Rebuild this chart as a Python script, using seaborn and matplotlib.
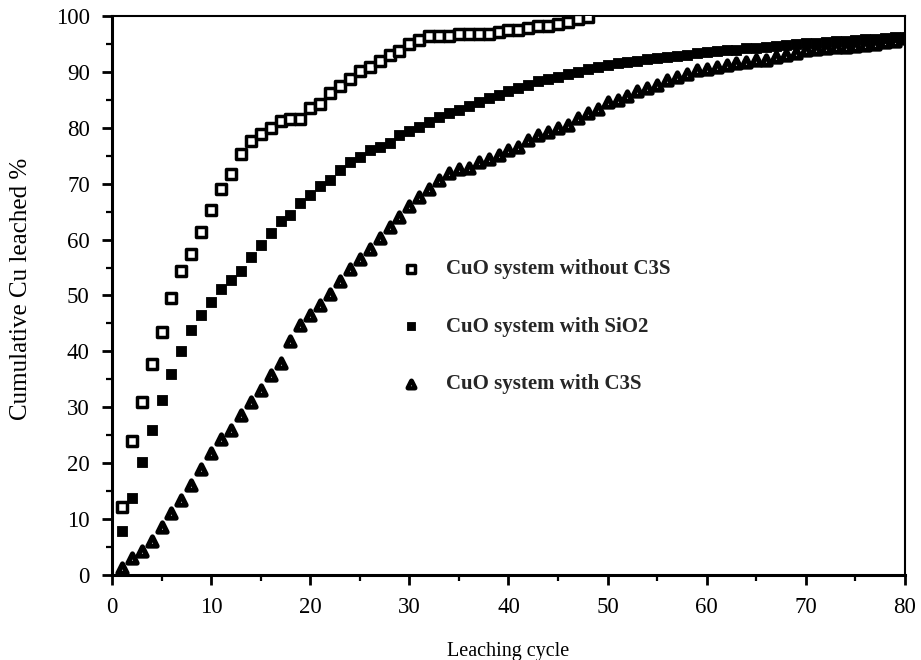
import matplotlib
matplotlib.use("Agg")
import matplotlib.pyplot as plt
from matplotlib.ticker import MultipleLocator
import numpy as np
import pandas as pd
import seaborn as sns

# Cumulative Cu leached (%) per leaching cycle
cycles_no_c3s = list(range(1, 49))
cu_no_c3s = [12.2, 24.0, 30.9, 37.8, 43.4, 49.5, 54.3, 57.4, 61.3, 65.3,
             69.1, 71.8, 75.3, 77.7, 78.8, 80.0, 81.2, 81.6, 81.6, 83.5,
             84.3, 86.2, 87.4, 88.8, 90.2, 90.9, 91.9, 93.0, 93.8, 94.9,
             95.7, 96.5, 96.4, 96.4, 96.7, 96.8, 96.8, 96.8, 97.1, 97.5,
             97.5, 97.8, 98.2, 98.2, 98.6, 98.9, 99.4, 99.9]

cycles_sio2 = list(range(1, 81))
cu_sio2 = [7.8, 13.7, 20.2, 25.9, 31.3, 35.9, 40.1, 43.9, 46.5, 48.9,
           51.1, 52.8, 54.4, 56.9, 59.0, 61.2, 63.3, 64.4, 66.6, 68.0,
           69.5, 70.7, 72.4, 73.9, 74.8, 76.0, 76.6, 77.3, 78.7, 79.5,
           80.2, 81.1, 82.0, 82.6, 83.2, 83.9, 84.7, 85.3, 85.9, 86.5,
           87.1, 87.7, 88.3, 88.7, 89.1, 89.6, 90.0, 90.5, 90.9, 91.2,
           91.5, 91.8, 92.0, 92.3, 92.5, 92.7, 92.9, 93.1, 93.3, 93.5,
           93.7, 93.9, 94.0, 94.2, 94.3, 94.5, 94.6, 94.8, 94.9, 95.1,
           95.2, 95.4, 95.5, 95.6, 95.7, 95.8, 95.9, 96.0, 96.2, 96.3]

cycles_c3s = list(range(1, 81))
cu_c3s = [1.3, 3.0, 4.3, 6.0, 8.5, 11.0, 13.5, 16.1, 18.9, 21.8,
          24.3, 25.9, 28.6, 30.9, 33.1, 35.8, 38.0, 41.9, 44.8, 46.5,
          48.3, 50.2, 52.6, 54.7, 56.5, 58.4, 60.2, 62.3, 64.0, 66.0,
          67.6, 69.1, 70.6, 71.9, 72.6, 72.8, 73.9, 74.5, 75.1, 76.0,
          76.6, 77.8, 78.7, 79.3, 79.9, 80.5, 81.7, 82.6, 83.4, 84.7,
          85.0, 85.6, 86.5, 87.1, 87.7, 88.6, 89.1, 89.7, 90.3, 90.6,
          90.9, 91.2, 91.6, 91.8, 92.1, 92.1, 92.7, 93.0, 93.3, 93.9,
          94.1, 94.3, 94.4, 94.5, 94.6, 94.8, 95.0, 95.3, 95.6, 96.0]

labels = ["CuO system without C3S", "CuO system with SiO2", "CuO system with C3S"]
x_ticks = list(range(0, 81, 10))
y_ticks = list(range(0, 101, 10))

sns.set_theme(style="ticks")
plt.rcParams["font.family"] = ["Liberation Serif", "DejaVu Serif"]

fig = plt.figure(figsize=(9.21, 6.60), dpi=100)
ax = fig.add_axes([0.1216, 0.1288, 0.8610, 0.8470])

df_a = pd.DataFrame({"cycle": cycles_no_c3s, "cu": cu_no_c3s})
df_b = pd.DataFrame({"cycle": cycles_sio2, "cu": cu_sio2})
df_c = pd.DataFrame({"cycle": cycles_c3s, "cu": cu_c3s})

sns.scatterplot(data=df_c, x="cycle", y="cu", ax=ax, marker="^", s=45,
                facecolor="white", edgecolor="black", linewidth=3.6,
                label=labels[2], zorder=3)
sns.scatterplot(data=df_b, x="cycle", y="cu", ax=ax, marker="s", s=55,
                color="black", edgecolor="black", linewidth=0.6,
                label=labels[1], zorder=4)
sns.scatterplot(data=df_a, x="cycle", y="cu", ax=ax, marker="s", s=58,
                facecolor="white", edgecolor="black", linewidth=2.5,
                label=labels[0], zorder=5)

ax.set_xlim(0, 80)
ax.set_ylim(0, 100)
ax.set_xticks(x_ticks)
ax.set_yticks(y_ticks)
ax.xaxis.set_minor_locator(MultipleLocator(5))
ax.yaxis.set_minor_locator(MultipleLocator(5))
ax.tick_params(which="major", direction="out", length=7, width=2,
               labelsize=16.5, pad=9, color="black", labelcolor="black")
ax.tick_params(which="minor", direction="out", length=4.5, width=1.6,
               color="black")
ax.tick_params(axis="x", which="both", top=False)
ax.tick_params(axis="y", which="both", right=False)

for side in ("left", "bottom"):
    ax.spines[side].set_linewidth(2.2)
for side in ("top", "right"):
    ax.spines[side].set_linewidth(1.5)
for sp in ax.spines.values():
    sp.set_color("black")
    sp.set_visible(True)

ax.set_xlabel("Leaching cycle", fontsize=14.5, color="black")
ax.set_ylabel("Cumulative Cu leached %", fontsize=18, color="black")
ax.xaxis.set_label_coords(0.5, -0.12)
ax.yaxis.set_label_coords(-0.101, 0.5125)

handles, lbls = ax.get_legend_handles_labels()
order = [lbls.index(l) for l in labels]
leg = ax.legend([handles[i] for i in order], [lbls[i] for i in order],
                loc="upper left", bbox_to_anchor=(0.34, 0.598),
                frameon=False, prop={"weight": "bold", "size": 15},
                labelspacing=1.8, handletextpad=1.2, handlelength=1.0,
                markerscale=0.75)

fig.savefig("out.png", dpi=100, facecolor="white")
